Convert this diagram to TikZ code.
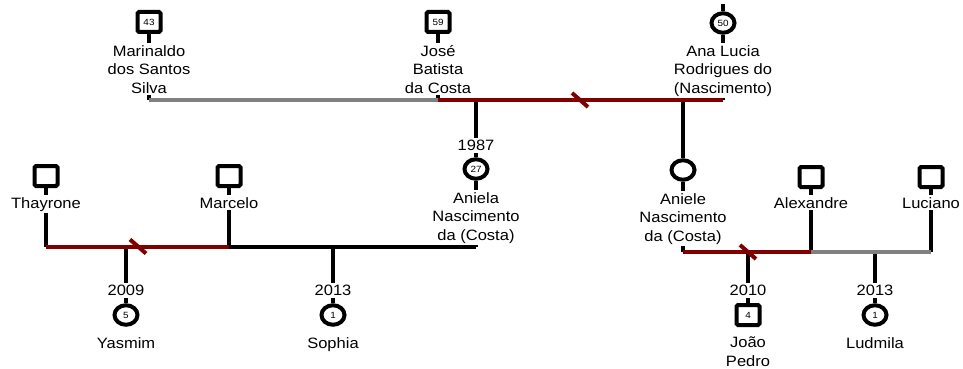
\documentclass[tikz,border=0pt]{standalone}
\usepackage{fontspec}
\newfontfamily\gfont[FakeStretch=1.1]{Liberation Sans}
\usetikzlibrary{shapes.geometric}

\definecolor{splitred}{RGB}{128,0,0}
\definecolor{pairgray}{RGB}{128,128,128}

\begin{document}
\begin{tikzpicture}[x=1pt, y=-1pt,
    male/.style={draw, rectangle, rounded corners=1.5pt, line width=4pt, minimum width=23pt, minimum height=20pt, inner sep=0pt, font=\fontsize{9}{9}\gfont},
    female/.style={draw, ellipse, line width=4pt, minimum width=23pt, minimum height=19.5pt, inner sep=0pt, font=\fontsize{9}{9}\gfont},
    tag/.style={fill=white, align=center, anchor=north, inner xsep=1pt, inner ysep=2pt, font=\fontsize{15}{18.5}\gfont},
    link/.style={line width=4pt},
    pair/.style={link, pairgray},
    split/.style={link, splitred},
    slash/.style={line width=4pt, splitred}]
    \useasboundingbox (0,0) rectangle (963,369);

    % Nodes {persons}
    \node [male]   (marinaldo) at (149,22)  {43};
    \node [male]   (jose)      at (438,22)  {59};
    \node [female] (analucia)  at (723,23)  {50};
    \node [female] (aniela)    at (476,169) {27};
    \node [female] (aniele)    at (683,170) {};
    \node [male]   (thayrone)  at (46,176)  {};
    \node [male]   (marcelo)   at (229,176) {};
    \node [male]   (alexandre) at (811,177) {};
    \node [male]   (luciano)   at (931,177) {};
    \node [female] (yasmim)    at (126,315) {5};
    \node [female] (sophia)    at (333,315) {1};
    \node [male]   (joao)      at (748,315) {4};
    \node [female] (ludmila)   at (875,315) {1};

    % Coordinates {union lines}
    \coordinate (marinaldo u) at (149,100);
    \coordinate (jose u)      at (438,100);
    \coordinate (analucia u)  at (723,100);
    \coordinate (analucia t)  at (723,4);
    \coordinate (aniela t)    at (476,100);
    \coordinate (aniele t)    at (683,100);
    \coordinate (top cut)     at (580,100);
    \coordinate (thayrone u)  at (46,246.5);
    \coordinate (marcelo u)   at (229,246.5);
    \coordinate (aniela u)    at (476,246.5);
    \coordinate (yasmim t)    at (126,246.5);
    \coordinate (sophia t)    at (333,246.5);
    \coordinate (left cut)    at (138,246.5);
    \coordinate (aniele u)    at (683,252);
    \coordinate (alexandre u) at (811,252);
    \coordinate (luciano u)   at (931,252);
    \coordinate (joao t)      at (748,252);
    \coordinate (ludmila t)   at (875,252);
    \coordinate (right cut)   at (748,252);

    % Paths {descent}
    \path [link] (marinaldo)  edge (marinaldo u);
    \path [link] (jose)       edge (jose u);
    \path [link] (analucia)   edge (analucia u);
    \path [link] (analucia t) edge (analucia);
    \path [link] (aniela t)   edge (aniela);
    \path [link] (aniela)     edge (aniela u);
    \path [link] (aniele t)   edge (aniele);
    \path [link] (aniele)     edge (aniele u);
    \path [link] (thayrone)   edge (thayrone u);
    \path [link] (marcelo)    edge (marcelo u);
    \path [link] (alexandre)  edge (alexandre u);
    \path [link] (luciano)    edge (luciano u);
    \path [link] (yasmim t)   edge (yasmim);
    \path [link] (sophia t)   edge (sophia);
    \path [link] (joao t)     edge (joao);
    \path [link] (ludmila t)  edge (ludmila);

    % Labels {names, years}
    \node [tag] (marinaldo n) at (149,43)  {Marinaldo\\dos Santos\\Silva};
    \node [tag] (jose n)      at (438,43)  {José\\Batista\\da Costa};
    \node [tag] (analucia n)  at (723,43)  {Ana Lucia\\Rodrigues do\\(Nascimento)};
    \node [tag] (aniela y)    at (476,138) {1987};
    \node [tag] (aniela n)    at (476,190) {Aniela\\Nascimento\\da (Costa)};
    \node [tag] (aniele n)    at (683,191) {Aniele\\Nascimento\\da (Costa)};
    \node [tag] (thayrone n)  at (46,195)  {Thayrone};
    \node [tag] (marcelo n)   at (229,195) {Marcelo};
    \node [tag] (alexandre n) at (811,195) {Alexandre};
    \node [tag] (luciano n)   at (931,195) {Luciano};
    \node [tag] (yasmim y)    at (126,283) {2009};
    \node [tag] (sophia y)    at (333,283) {2013};
    \node [tag] (joao y)      at (748,283) {2010};
    \node [tag] (ludmila y)   at (875,283) {2013};
    \node [tag] (yasmim n)    at (126,335) {Yasmim};
    \node [tag] (sophia n)    at (333,335) {Sophia};
    \node [tag] (joao n)      at (748,335) {João\\Pedro};
    \node [tag] (ludmila n)   at (875,335) {Ludmila};

    % Paths {unions}
    \path [pair]  (marinaldo u) edge (jose u);
    \path [split] (jose u)      edge (analucia u);
    \path [split] (thayrone u)  edge (marcelo u);
    \path [link]  (marcelo u)   edge (aniela u);
    \path [split] (aniele u)    edge (alexandre u);
    \path [pair]  (alexandre u) edge (luciano u);
    \draw [slash] (top cut)   +(-8,-7) -- +(8,7);
    \draw [slash] (left cut)  +(-8,-7) -- +(8,7);
    \draw [slash] (right cut) +(-8,-7) -- +(8,7);

\end{tikzpicture}
\end{document}
